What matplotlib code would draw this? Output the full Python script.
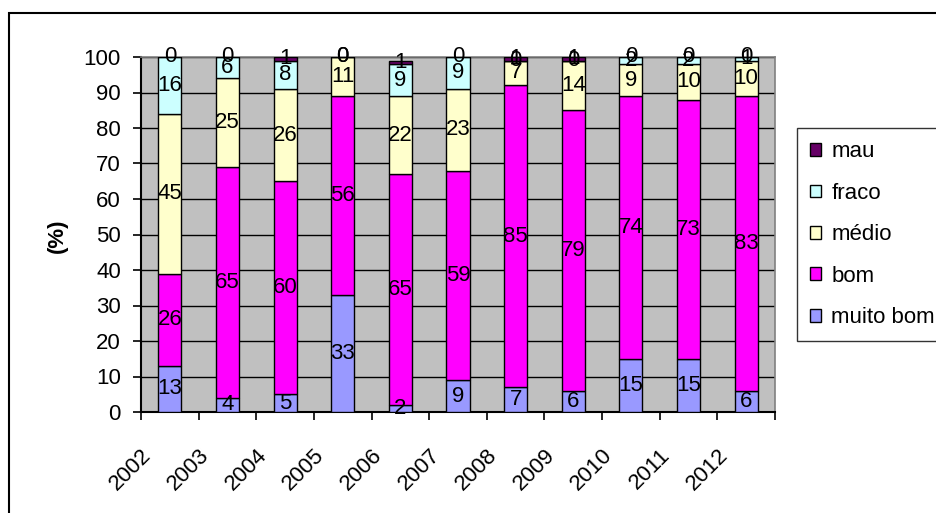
import matplotlib
matplotlib.use("Agg")
import matplotlib.pyplot as plt
import matplotlib.patches as mpatches
from matplotlib.transforms import ScaledTranslation
import numpy as np

plt.rcParams['font.family'] = ['Liberation Sans', 'DejaVu Sans']

years = ['2002', '2003', '2004', '2005', '2006', '2007', '2008', '2009', '2010', '2011', '2012']
muito_bom = [13, 4, 5, 33, 2, 9, 7, 6, 15, 15, 6]
bom = [26, 65, 60, 56, 65, 59, 85, 79, 74, 73, 83]
medio = [45, 25, 26, 11, 22, 23, 7, 14, 9, 10, 10]
fraco = [16, 6, 8, 0, 9, 9, 0, 0, 2, 2, 1]
mau = [0, 0, 1, 0, 1, 0, 1, 1, 0, 0, 0]

series = [('muito bom', muito_bom, '#9999FF'),
          ('bom', bom, '#FF00FF'),
          ('médio', medio, '#FFFFCC'),
          ('fraco', fraco, '#CCFFFF'),
          ('mau', mau, '#660066')]

FS = 16
W, H = 937, 513
fig = plt.figure(figsize=(W / 100, H / 100), dpi=100)
ax = fig.add_axes([141 / W, 1 - 412 / H, (775 - 141) / W, (412 - 57) / H])
ax.set_facecolor('#C0C0C0')

x = np.arange(len(years))
bottom = np.zeros(len(years))
handles = {}
for name, vals, col in series:
    vals = np.array(vals, dtype=float)
    ax.bar(x, vals, width=0.4, bottom=bottom, color=col, edgecolor='black',
           linewidth=1.0, zorder=3)
    handles[name] = mpatches.Patch(facecolor=col, edgecolor='black', linewidth=1.0)
    for xi, b, v in zip(x, bottom, vals):
        ax.text(xi, b + v / 2, f'{int(v)}', ha='center', va='center', fontsize=FS,
                color='black', zorder=5, clip_on=False)
    bottom += vals

ax.set_xlim(-0.5, len(years) - 0.5)
ax.set_ylim(0, 100)
ax.set_yticks(np.arange(0, 101, 10))
ax.yaxis.grid(True, color='black', linewidth=1.0, zorder=1)
ax.set_axisbelow(True)
ax.tick_params(axis='y', direction='out', length=6, width=1.2, pad=8.5, labelsize=FS)

# category boundary ticks (major) and labels at centers (minor)
ax.set_xticks(np.arange(-0.5, len(years), 1.0))
ax.set_xticklabels([])
ax.tick_params(axis='x', which='major', direction='out', length=6, width=1.2)
ax.set_xticks(x, minor=True)
ax.set_xticklabels(years, minor=True)
ax.tick_params(axis='x', which='minor', length=0, pad=0, labelsize=FS)
off = ScaledTranslation(-14 / 100, -33 / 100, fig.dpi_scale_trans)
for lab in ax.get_xticklabels(minor=True):
    lab.set_rotation(45)
    lab.set_ha('right')
    lab.set_va('top')
    lab.set_transform(lab.get_transform() + off)

for s in ['left', 'bottom']:
    ax.spines[s].set_color('black')
    ax.spines[s].set_linewidth(1.5)
for s in ['top', 'right']:
    ax.spines[s].set_color('#808080')
    ax.spines[s].set_linewidth(1.2)

fig.text(57 / W, 1 - 236 / H, '(%)', rotation=90, ha='center', va='center',
         fontsize=FS, fontweight='bold')

order = ['mau', 'fraco', 'médio', 'bom', 'muito bom']
leg = fig.legend([handles[n] for n in order], order, loc='upper left',
                 bbox_to_anchor=(797 / W, 1 - 128 / H), bbox_transform=fig.transFigure,
                 fontsize=FS, frameon=True, fancybox=False, shadow=False,
                 handlelength=0.5, handleheight=0.5, handletextpad=0.45,
                 borderpad=0.6, labelspacing=0.92, borderaxespad=0)
leg.get_frame().set_edgecolor('black')
leg.get_frame().set_linewidth(1.0)
leg.get_frame().set_facecolor('white')

border = mpatches.Rectangle((9 / W, -0.1), 1.2, 1.1 - 13 / H, transform=fig.transFigure,
                            fill=False, edgecolor='black', linewidth=1.5, zorder=10)
fig.patches.append(border)

fig.savefig('out.png', dpi=100)
